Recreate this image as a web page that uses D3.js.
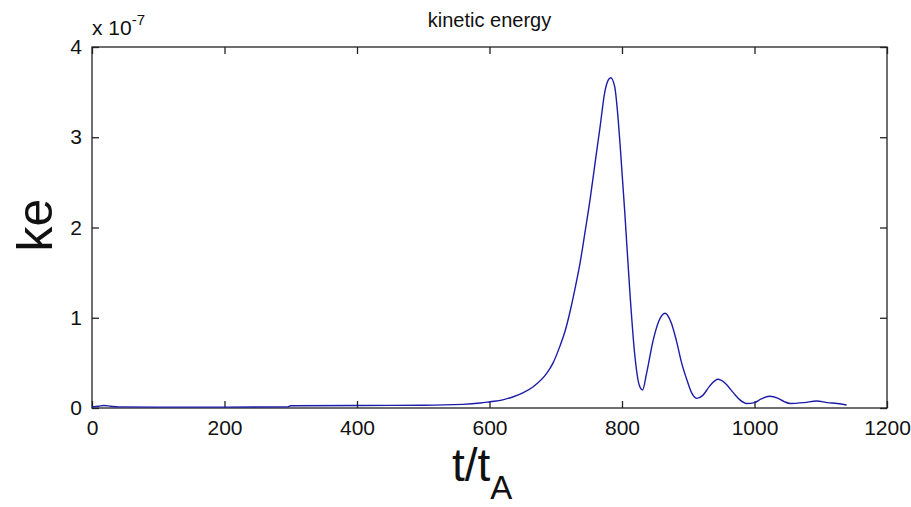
<!DOCTYPE html>
<html lang="en">
<head>
<meta charset="UTF-8">
<title>kinetic energy</title>
<script src="https://d3js.org/d3.v7.min.js"></script>
<style>
    body { margin: 0; background: white; }
    text { font-family: "Liberation Sans", Arial, sans-serif; fill: #111; }
</style>
</head>
<body>
<div id="chart"></div>
<script>
// time in units of t_A
const times = [0, 10, 18, 28, 40, 100, 200, 295, 300, 400, 500, 560, 586, 601, 620, 636, 651, 666, 686, 696,
    706, 714, 721, 729, 737, 744, 752, 760, 767, 774, 779, 783, 789, 793, 797, 804, 812, 819, 826, 831,
    837, 847, 856, 865, 874, 882, 890, 898, 905, 913, 922, 932, 945, 955, 968, 978, 988, 1000, 1010, 1023,
    1035, 1045, 1054, 1075, 1094, 1110, 1125, 1139];
// kinetic energy, x 1e-7
const ke = [0.012, 0.02, 0.028, 0.02, 0.012, 0.01, 0.01, 0.012, 0.025, 0.028, 0.03, 0.04, 0.055, 0.07, 0.09, 0.125, 0.17, 0.236, 0.38, 0.5,
    0.68, 0.85, 1.05, 1.32, 1.62, 1.94, 2.32, 2.75, 3.12, 3.5, 3.63, 3.66, 3.56, 3.3, 2.93, 2.19, 1.27, 0.61, 0.255, 0.2,
    0.38, 0.75, 0.97, 1.05, 0.95, 0.75, 0.5, 0.31, 0.17, 0.107, 0.14, 0.24, 0.318, 0.28, 0.17, 0.09, 0.05, 0.06, 0.1, 0.13,
    0.11, 0.07, 0.05, 0.06, 0.077, 0.06, 0.05, 0.033];
const xTicks = [0, 200, 400, 600, 800, 1000, 1200];
const yTicks = [0, 1, 2, 3, 4];

const width = 911, height = 507;
const mLeft = 92, mRight = 887, mTop = 47, mBottom = 408;

const x = d3.scaleLinear().domain([0, 1200]).range([mLeft, mRight]);
const y = d3.scaleLinear().domain([0, 4]).range([mBottom, mTop]);

const svg = d3.select("#chart").append("svg")
    .attr("width", width)
    .attr("height", height);

// box
svg.append("rect")
    .attr("x", mLeft).attr("y", mTop)
    .attr("width", mRight - mLeft).attr("height", mBottom - mTop)
    .attr("fill", "white").attr("stroke", "#222").attr("stroke-width", 1.3);

// axes with inward ticks on all sides
const tickLen = 7;
svg.append("g").attr("transform", "translate(0," + mBottom + ")")
    .call(d3.axisBottom(x).tickValues(xTicks).tickSize(-tickLen).tickPadding(12).tickFormat(d3.format("d")))
    .call(g => g.select(".domain").remove())
    .call(g => g.selectAll("text").attr("font-size", 21).attr("font-family", "Liberation Sans, Arial, sans-serif").attr("fill", "#222"));
svg.append("g").attr("transform", "translate(0," + mTop + ")")
    .call(d3.axisTop(x).tickValues(xTicks).tickSize(-tickLen).tickFormat(""))
    .call(g => g.select(".domain").remove());
svg.append("g").attr("transform", "translate(" + mLeft + ",0)")
    .call(d3.axisLeft(y).tickValues(yTicks).tickSize(-tickLen).tickPadding(10).tickFormat(d3.format("d")))
    .call(g => g.select(".domain").remove())
    .call(g => g.selectAll("text").attr("font-size", 21).attr("font-family", "Liberation Sans, Arial, sans-serif").attr("fill", "#222"));
svg.append("g").attr("transform", "translate(" + mRight + ",0)")
    .call(d3.axisRight(y).tickValues(yTicks).tickSize(-tickLen).tickFormat(""))
    .call(g => g.select(".domain").remove());
svg.selectAll(".tick line").attr("stroke", "#222").attr("stroke-width", 1.3);

// the curve
const pts = times.map((t, i) => [t, ke[i]]);
svg.append("path")
    .datum(pts)
    .attr("fill", "none")
    .attr("stroke", "#1c1ca8")
    .attr("stroke-width", 1.4)
    .attr("d", d3.line().x(d => x(d[0])).y(d => y(d[1])).curve(d3.curveMonotoneX));

// title
svg.append("text")
    .attr("x", (mLeft + mRight) / 2).attr("y", 27)
    .attr("text-anchor", "middle")
    .attr("font-size", 20)
    .text("kinetic energy");

// exponent
const ex = svg.append("text").attr("x", mLeft).attr("y", 35).attr("font-size", 21);
ex.append("tspan").text("x 10");
ex.append("tspan").attr("dy", -10).attr("font-size", 15).text("-7");

// y label
svg.append("text")
    .attr("transform", "translate(52," + 225 + ") rotate(-90)")
    .attr("text-anchor", "middle")
    .attr("font-size", 50)
    .text("ke");

// x label
const xl = svg.append("text")
    .attr("x", 452).attr("y", 481)
    .attr("font-size", 46);
xl.append("tspan").text("t/t");
xl.append("tspan").attr("dy", 18).attr("font-size", 33).text("A");
</script>
</body>
</html>
